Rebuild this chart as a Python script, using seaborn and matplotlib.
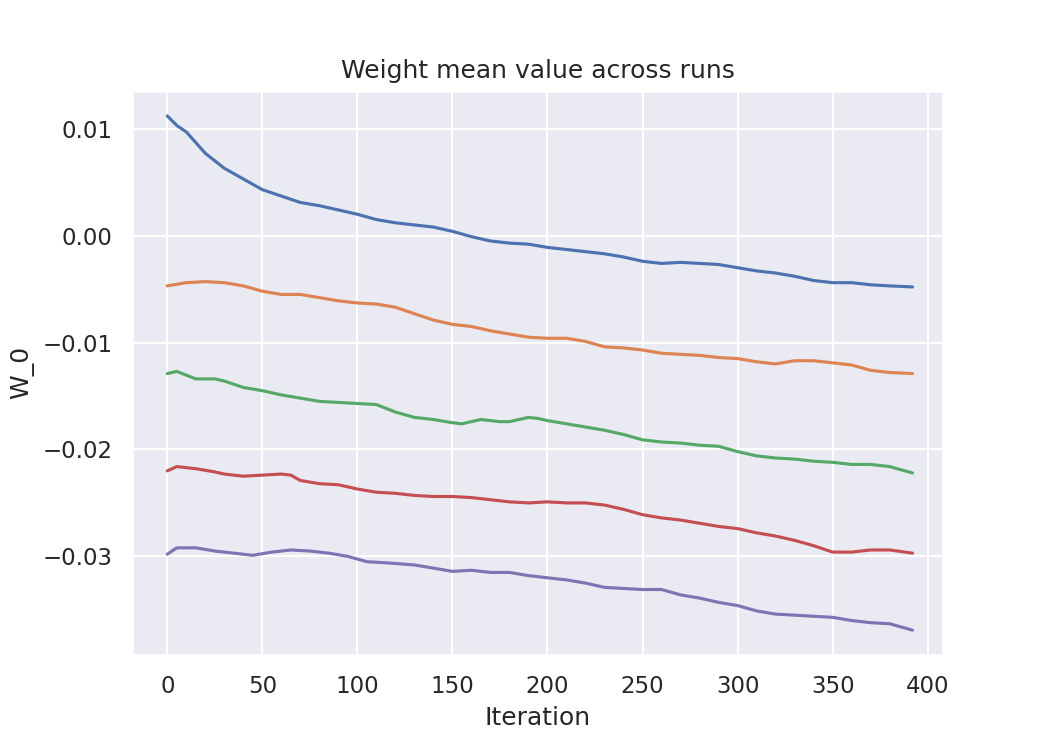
import numpy as np
import pandas as pd
import seaborn as sns
import matplotlib
matplotlib.use("Agg")
import matplotlib.pyplot as plt

x_blue = [0,5,10,20,30,40,50,60,70,80,90,100,110,120,130,140,150,160,170,180,190,200,210,220,230,240,250,260,270,280,290,300,310,320,330,340,350,360,370,380,392]
y_blue = [0.0112,0.0103,0.0097,0.0077,0.0063,0.0053,0.0043,0.0037,0.0031,0.0028,0.0024,0.0020,0.0015,0.0012,0.0010,0.0008,0.0004,-0.0001,-0.0005,-0.0007,-0.0008,-0.0011,-0.0013,-0.0015,-0.0017,-0.0020,-0.0024,-0.0026,-0.0025,-0.0026,-0.0027,-0.0030,-0.0033,-0.0035,-0.0038,-0.0042,-0.0044,-0.0044,-0.0046,-0.0047,-0.0048]

x_orange = [0,10,20,30,40,50,60,70,80,90,100,110,120,130,140,150,160,170,180,190,200,210,220,230,240,250,260,270,280,290,300,310,320,330,340,350,360,370,380,392]
y_orange = [-0.0047,-0.0044,-0.0043,-0.0044,-0.0047,-0.0052,-0.0055,-0.0055,-0.0058,-0.0061,-0.0063,-0.0064,-0.0067,-0.0073,-0.0079,-0.0083,-0.0085,-0.0089,-0.0092,-0.0095,-0.0096,-0.0096,-0.0099,-0.0104,-0.0105,-0.0107,-0.0110,-0.0111,-0.0112,-0.0114,-0.0115,-0.0118,-0.0120,-0.0117,-0.0117,-0.0119,-0.0121,-0.0126,-0.0128,-0.0129]

x_green = [0,5,15,25,30,40,50,60,70,80,90,100,110,120,130,140,150,155,165,175,180,190,195,200,210,220,230,240,250,260,270,280,290,300,310,320,330,340,350,360,370,380,392]
y_green = [-0.0129,-0.0127,-0.0134,-0.0134,-0.0136,-0.0142,-0.0145,-0.0149,-0.0152,-0.0155,-0.0156,-0.0157,-0.0158,-0.0165,-0.0170,-0.0172,-0.0175,-0.0176,-0.0172,-0.0174,-0.0174,-0.0170,-0.0171,-0.0173,-0.0176,-0.0179,-0.0182,-0.0186,-0.0191,-0.0193,-0.0194,-0.0196,-0.0197,-0.0202,-0.0206,-0.0208,-0.0209,-0.0211,-0.0212,-0.0214,-0.0214,-0.0216,-0.0222]

x_red = [0,5,15,25,30,40,50,60,65,70,80,90,100,110,120,130,140,150,160,170,180,190,200,210,220,230,240,250,260,270,280,290,300,310,320,330,340,350,360,370,380,392]
y_red = [-0.0220,-0.0216,-0.0218,-0.0221,-0.0223,-0.0225,-0.0224,-0.0223,-0.0224,-0.0229,-0.0232,-0.0233,-0.0237,-0.0240,-0.0241,-0.0243,-0.0244,-0.0244,-0.0245,-0.0247,-0.0249,-0.0250,-0.0249,-0.0250,-0.0250,-0.0252,-0.0256,-0.0261,-0.0264,-0.0266,-0.0269,-0.0272,-0.0274,-0.0278,-0.0281,-0.0285,-0.0290,-0.0296,-0.0296,-0.0294,-0.0294,-0.0297]

x_purple = [0,5,15,25,35,45,55,65,75,85,95,105,115,130,140,150,160,170,180,190,200,210,220,230,240,250,260,270,280,290,300,310,320,330,340,350,360,370,380,392]
y_purple = [-0.0298,-0.0292,-0.0292,-0.0295,-0.0297,-0.0299,-0.0296,-0.0294,-0.0295,-0.0297,-0.0300,-0.0305,-0.0306,-0.0308,-0.0311,-0.0314,-0.0313,-0.0315,-0.0315,-0.0318,-0.0320,-0.0322,-0.0325,-0.0329,-0.0330,-0.0331,-0.0331,-0.0336,-0.0339,-0.0343,-0.0346,-0.0351,-0.0354,-0.0355,-0.0356,-0.0357,-0.0360,-0.0362,-0.0363,-0.0369]

series = [(x_blue, y_blue), (x_orange, y_orange), (x_green, y_green), (x_red, y_red), (x_purple, y_purple)]
frames = [pd.DataFrame({"Iteration": xs, "W_0": ys, "run": i}) for i, (xs, ys) in enumerate(series)]
df = pd.concat(frames, ignore_index=True)

sns.set_theme(style="darkgrid")
fig, ax = plt.subplots(figsize=(7, 5), dpi=150)
fig.subplots_adjust(left=0.126, right=0.898, top=0.879, bottom=0.127)
sns.lineplot(data=df, x="Iteration", y="W_0", hue="run", palette=sns.color_palette()[:5], legend=False, ax=ax)
ax.set_xlim(-18.4, 408)
ax.set_ylim(-0.0392, 0.01355)
ax.set_yticks([0.01, 0.0, -0.01, -0.02, -0.03])
ax.set_yticklabels(["0.01", "0.00", "\u22120.01", "\u22120.02", "\u22120.03"])
ax.set_title("Weight mean value across runs")
fig.savefig("out.png", dpi=150)
